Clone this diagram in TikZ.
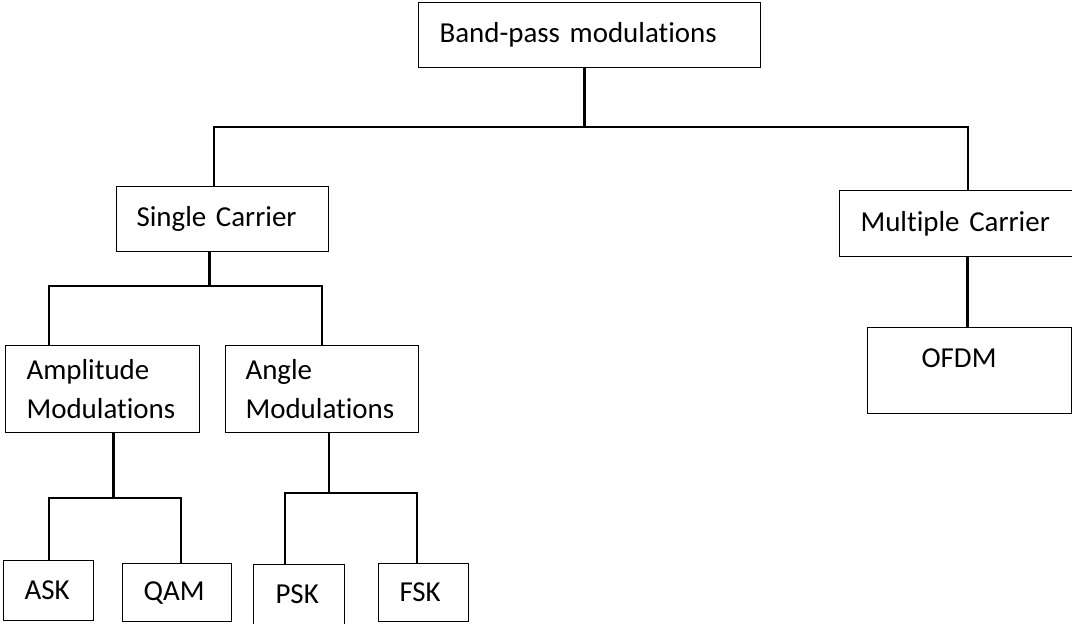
\documentclass[tikz,border=0pt]{standalone}
\usepackage{fontspec}
\setmainfont{Carlito}[Ligatures=NoCommon, WordSpace=0.8]
\usetikzlibrary{calc}
\tikzset{
	blk/.style={draw, line width=0.8pt, anchor=north west, align=left, inner ysep=0pt, font=\fontsize{21.7}{29}\selectfont},
	ln/.style={line width=1.5pt},
	stem/.style={line width=2.3pt}
}
\begin{document}
\begin{tikzpicture}[x=0.75pt, y=-0.75pt]
	\useasboundingbox (0,0) rectangle (1072,624);
	% boxes
	\node [blk, inner xsep=15.75pt, text width=225pt, minimum height=48.75pt] (bp) at (418,2) {Band-pass modulations};
	\node [blk, inner xsep=15pt, text width=129pt, minimum height=48.75pt] (sc) at (116,186) {Single Carrier};
	\node [blk, inner xsep=15.75pt, text width=160.5pt, minimum height=49.5pt] (mc) at (839,190) {Multiple Carrier};
	\node [blk, inner xsep=15.75pt, text width=114pt, minimum height=65.25pt] (am) at (5,345) {Amplitude\\Modulations};
	\node [blk, inner xsep=15pt, text width=114.75pt, minimum height=65.25pt] (an) at (225,345) {Angle\\Modulations};
	\node [blk, inner xsep=40.5pt, text width=72pt, minimum height=64.5pt, text depth=19pt] (ofdm) at (867,327) {OFDM};
	\node [blk, inner xsep=15.75pt, text width=36pt, minimum height=45pt] (ask) at (3,560) {ASK};
	\node [blk, inner xsep=15.75pt, text width=50.25pt, minimum height=43.5pt] (qam) at (122,563) {QAM};
	\node [blk, inner xsep=16.5pt, text width=35.25pt, minimum height=45pt] (psk) at (253,564) {PSK};
	\node [blk, inner xsep=15.75pt, text width=36pt, minimum height=43.5pt] (fsk) at (378,563) {FSK};

	% connectors
	\draw [stem] ($(bp.south)+(-5,0)$) -- ++(0,59) coordinate (t1);
	\draw [ln] ($(sc.north)+(-9,0)$) |- (t1) -| (mc.north);
	\draw [stem] ($(sc.south)+(-13,0)$) -- ++(0,34) coordinate (t2);
	\draw [ln] ($(am.north)+(-54,0)$) |- (t2) -| (an.north);
	\draw [stem] ($(am.south)+(11,0)$) -- ++(0,65) coordinate (t3);
	\draw [ln] (ask.north) |- (t3) -| ($(qam.north)+(3.5,0)$);
	\draw [ln] ($(an.south)+(6.5,0)$) -- ++(0,60) coordinate (t4);
	\draw [ln] ($(psk.north)+(-14.5,0)$) |- (t4) -| ($(fsk.north)+(-7,0)$);
	\draw [stem] (mc.south) -- (mc.south |- ofdm.north);
\end{tikzpicture}
\end{document}
